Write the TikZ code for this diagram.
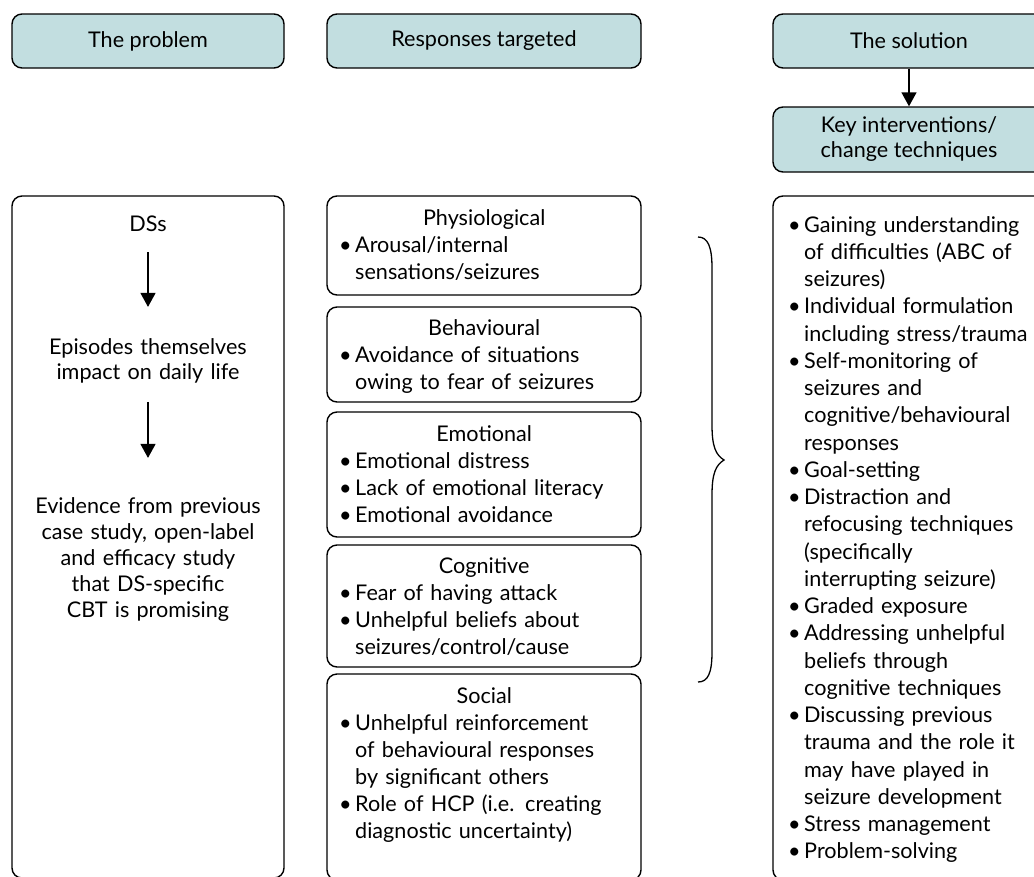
\documentclass[tikz,border=0pt]{standalone}
\usepackage{fontspec}
\setmainfont{Lato}
\usetikzlibrary{arrows.meta}
\definecolor{hdrfill}{RGB}{194,222,224}
\newcommand{\bitem}[1]{\noindent\hangindent=14pt\hangafter=1\makebox[14pt][l]{\kern-2pt\textbullet}#1\par}
\newcommand{\ttl}[1]{{\centering #1\par}}
\begin{document}
\begin{tikzpicture}[x=1pt,y=-1pt,
  box/.style={draw, line width=1.4pt, rounded corners=10pt, inner sep=0pt},
  hdr/.style={box, fill=hdrfill, font=\fontsize{21.6}{25}\selectfont, align=center},
  txt/.style={inner sep=0pt, font=\fontsize{21.6}{27}\selectfont},
  ltxt/.style={txt, text width=286pt, align=left, anchor=base west},
  ctxt/.style={txt, text width=266pt, align=center, anchor=base},
  arr/.style={line width=1.4pt, -{Triangle[width=15pt,length=14pt]}}]
\useasboundingbox (0,0) rectangle (1034,876);
\clip (0,0) rectangle (1034,876);
% headers
\node[hdr, minimum width=272pt, minimum height=54pt] (h1) at (148,41) {The problem};
\node[hdr, minimum width=314pt, minimum height=54pt] (h2) at (484,41) {Responses targeted};
\node[hdr, minimum width=272pt, minimum height=54pt] (h3) at (909,41) {The solution};
\node[hdr, minimum width=272pt, minimum height=65pt] (key) at (909,139.5) {Key interventions/\\change techniques};
\draw[arr] (h3.south) -- (key.north);
% left column
\node[box, minimum width=272pt, minimum height=682pt] (lbox) at (148,537) {};
\node[ctxt] (ds) at (148,231) {DSs};
\node[ctxt, font=\fontsize{21.6}{25}\selectfont] (ep) at (148,354) {Episodes themselves\\impact on daily life};
\node[ctxt, font=\fontsize{21.6}{26}\selectfont] (ev) at (148,513) {Evidence from previous\\case study, open-label\\and efficacy study\\that DS-specific\\CBT is promising};
\draw[arr, shorten <=21pt, shorten >=31pt] (ds) -- (ep);
\draw[arr, shorten <=19pt, shorten >=39pt] (ep) -- (ev);
% middle column
\node[box, minimum width=314pt, minimum height=99pt] (m1) at (484,245.5) {};
\node[box, minimum width=314pt, minimum height=95pt] (m2) at (484,354.5) {};
\node[box, minimum width=314pt, minimum height=125pt] (m3) at (484,474.5) {};
\node[box, minimum width=314pt, minimum height=122pt] (m4) at (484,606) {};
\node[box, minimum width=314pt, minimum height=206pt] (m5) at (484,777) {};
\node[ltxt] (t1) at (341,225) {\ttl{Physiological}\bitem{Arousal/internal\newline sensations/seizures}};
\node[ltxt] (t2) at (341,335) {\ttl{Behavioural}\bitem{Avoidance of situations\newline owing to fear of seizures}};
\node[ltxt] (t3) at (341,441) {\ttl{Emotional}\bitem{Emotional distress}\bitem{Lack of emotional literacy}\bitem{Emotional avoidance}};
\node[ltxt] (t4) at (341,573) {\ttl{Cognitive}\bitem{Fear of having attack}\bitem{Unhelpful beliefs about\newline seizures/control/cause}};
\node[ltxt] (t5) at (341,703) {\ttl{Social}\bitem{Unhelpful reinforcement\newline of behavioural responses\newline by significant others}\bitem{Role of HCP (i.e. creating\newline diagnostic uncertainty)}};
% brace
\draw[line width=1.3pt] (698,237) .. controls (708,237) and (712,247) .. (712,268) -- (712,425)
  .. controls (712,447) and (716,455) .. (724,460)
  .. controls (716,465) and (712,473) .. (712,495) -- (712,652)
  .. controls (712,673) and (708,682) .. (698,682);
% right column
\node[box, minimum width=272pt, minimum height=684pt] (rbox) at (909,538) {};
\node[txt, text width=300pt, align=left, anchor=base west, font=\fontsize{21.6}{27.25}\selectfont] (r1) at (790,232) {%
\bitem{Gaining understanding\newline of difficulties (ABC of\newline seizures)}%
\bitem{Individual formulation\newline including stress/trauma}%
\bitem{Self-monitoring of\newline seizures and\newline cognitive/behavioural\newline responses}%
\bitem{Goal-setting}%
\bitem{Distraction and\newline refocusing techniques\newline (specifically\newline interrupting seizure)}%
\bitem{Graded exposure}%
\bitem{Addressing unhelpful\newline beliefs through\newline cognitive techniques}%
\bitem{Discussing previous\newline trauma and the role it\newline may have played in\newline seizure development}%
\bitem{Stress management}%
\bitem{Problem-solving}};
\end{tikzpicture}
\end{document}
